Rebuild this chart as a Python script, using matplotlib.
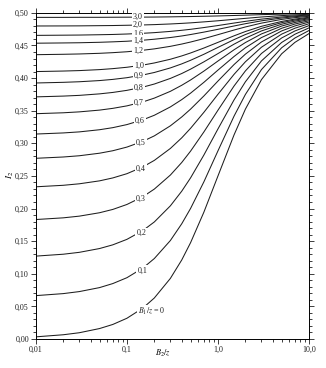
import numpy as np
import matplotlib.pyplot as plt
from matplotlib.ticker import LogLocator, MultipleLocator, NullFormatter

plt.rcParams['font.family'] = ['Liberation Serif', 'DejaVu Serif']
plt.rcParams['mathtext.fontset'] = 'stix'

# B2/z values where the curves were read
b2 = [0.01, 0.02, 0.03, 0.05, 0.07, 0.1, 0.15, 0.2, 0.3, 0.4, 0.5, 0.7, 1.0, 1.5, 2.0, 3.0, 5.0, 7.0, 10.0]

# I2 for each B1/z curve
i2_00 = [0.0032, 0.0064, 0.0095, 0.0159, 0.0222, 0.0317, 0.0474, 0.0628, 0.0928, 0.1211, 0.1476, 0.1944, 0.2500, 0.3128, 0.3524, 0.3976, 0.4372, 0.4548, 0.4683]
i2_01 = [0.0664, 0.0695, 0.0726, 0.0787, 0.0849, 0.0939, 0.1088, 0.1233, 0.1509, 0.1766, 0.2001, 0.2409, 0.2885, 0.3416, 0.3749, 0.4130, 0.4465, 0.4615, 0.4730]
i2_02 = [0.1270, 0.1299, 0.1328, 0.1386, 0.1443, 0.1527, 0.1663, 0.1794, 0.2041, 0.2266, 0.2470, 0.2820, 0.3221, 0.3665, 0.3943, 0.4263, 0.4546, 0.4673, 0.4770]
i2_03 = [0.1831, 0.1857, 0.1883, 0.1935, 0.1986, 0.2062, 0.2182, 0.2298, 0.2513, 0.2706, 0.2880, 0.3174, 0.3508, 0.3878, 0.4110, 0.4377, 0.4615, 0.4723, 0.4805]
i2_04 = [0.2333, 0.2356, 0.2379, 0.2424, 0.2469, 0.2534, 0.2639, 0.2738, 0.2921, 0.3084, 0.3230, 0.3475, 0.3752, 0.4057, 0.4250, 0.4473, 0.4674, 0.4765, 0.4834]
i2_05 = [0.2770, 0.2790, 0.2809, 0.2848, 0.2886, 0.2942, 0.3031, 0.3114, 0.3268, 0.3404, 0.3524, 0.3726, 0.3955, 0.4207, 0.4367, 0.4554, 0.4723, 0.4800, 0.4859]
i2_06 = [0.3142, 0.3159, 0.3175, 0.3208, 0.3240, 0.3287, 0.3361, 0.3430, 0.3558, 0.3670, 0.3769, 0.3935, 0.4123, 0.4331, 0.4465, 0.4621, 0.4764, 0.4829, 0.4879]
i2_07 = [0.3454, 0.3468, 0.3482, 0.3509, 0.3536, 0.3574, 0.3635, 0.3693, 0.3797, 0.3890, 0.3971, 0.4107, 0.4262, 0.4434, 0.4545, 0.4677, 0.4798, 0.4853, 0.4897]
i2_08 = [0.3712, 0.3724, 0.3735, 0.3758, 0.3780, 0.3812, 0.3862, 0.3909, 0.3995, 0.4070, 0.4137, 0.4249, 0.4376, 0.4520, 0.4612, 0.4723, 0.4826, 0.4874, 0.4911]
i2_09 = [0.3925, 0.3935, 0.3944, 0.3962, 0.3980, 0.4006, 0.4048, 0.4086, 0.4156, 0.4218, 0.4273, 0.4365, 0.4471, 0.4590, 0.4668, 0.4762, 0.4850, 0.4891, 0.4923]
i2_10 = [0.4100, 0.4108, 0.4115, 0.4130, 0.4145, 0.4166, 0.4200, 0.4232, 0.4289, 0.4340, 0.4385, 0.4461, 0.4548, 0.4648, 0.4714, 0.4794, 0.4869, 0.4905, 0.4933]
i2_12 = [0.4359, 0.4365, 0.4370, 0.4380, 0.4390, 0.4404, 0.4427, 0.4448, 0.4487, 0.4522, 0.4553, 0.4605, 0.4666, 0.4737, 0.4784, 0.4843, 0.4900, 0.4927, 0.4948]
i2_14 = [0.4535, 0.4539, 0.4542, 0.4549, 0.4556, 0.4565, 0.4581, 0.4596, 0.4622, 0.4646, 0.4668, 0.4705, 0.4748, 0.4799, 0.4834, 0.4878, 0.4921, 0.4942, 0.4959]
i2_16 = [0.4655, 0.4658, 0.4660, 0.4665, 0.4669, 0.4676, 0.4687, 0.4697, 0.4716, 0.4733, 0.4748, 0.4775, 0.4806, 0.4844, 0.4870, 0.4904, 0.4937, 0.4954, 0.4967]
i2_20 = [0.4799, 0.4800, 0.4801, 0.4804, 0.4806, 0.4810, 0.4815, 0.4820, 0.4830, 0.4839, 0.4847, 0.4862, 0.4879, 0.4901, 0.4916, 0.4937, 0.4958, 0.4969, 0.4978]
i2_30 = [0.4931, 0.4931, 0.4932, 0.4932, 0.4933, 0.4934, 0.4935, 0.4936, 0.4939, 0.4942, 0.4944, 0.4948, 0.4953, 0.4960, 0.4965, 0.4973, 0.4981, 0.4986, 0.4990]

curves = [i2_30, i2_20, i2_16, i2_14, i2_12, i2_10, i2_09, i2_08, i2_07,
          i2_06, i2_05, i2_04, i2_03, i2_02, i2_01, i2_00]

# curve labels and where they sit (in the gap of each curve)
labels = ['3,0', '2,0', '1,6', '1,4', '1,2', '1,0', '0,9', '0,8', '0,7',
          '0,6', '0,5', '0,4', '0,3', '0,2', '0,1', '$B_1/z$ = 0']
label_x = [0.132, 0.132, 0.132, 0.132, 0.132, 0.135, 0.135, 0.135, 0.135,
           0.138, 0.142, 0.142, 0.142, 0.145, 0.148, 0.19]
label_y = [0.4935, 0.4813, 0.4684, 0.4577, 0.4421, 0.4191, 0.4036, 0.3849, 0.3619,
           0.3341, 0.3007, 0.2611, 0.2151, 0.1628, 0.1050, 0.0420]

yticks = [0.0, 0.05, 0.10, 0.15, 0.20, 0.25, 0.30, 0.35, 0.40, 0.45, 0.50]
ytick_labels = ['0,00', '0,05', '0,10', '0,15', '0,20', '0,25', '0,30', '0,35', '0,40', '0,45', '0,50']
xticks = [0.01, 0.1, 1.0, 10.0]
xtick_labels = ['0,01', '0,1', '1,0', '10,0']

fig = plt.figure(figsize=(3.26, 3.68), dpi=100)
ax = fig.add_axes([0.110, 0.079, 0.838, 0.886])

for vals in curves:
    ax.plot(b2, vals, color='#1e1e1e', lw=0.75)

for txt, lx, ly in zip(labels, label_x, label_y):
    ax.text(lx, ly, txt, fontsize=5.8, ha='center', va='center', color='#1e1e1e',
            bbox=dict(boxstyle='square,pad=0.15', fc='white', ec='none'))

ax.set_xscale('log')
ax.set_xlim(0.01, 10)
ax.set_ylim(0, 0.5)
ax.set_xticks(xticks)
ax.set_xticklabels(xtick_labels)
ax.xaxis.set_minor_locator(LogLocator(base=10, subs=range(2, 10)))
ax.xaxis.set_minor_formatter(NullFormatter())
ax.set_yticks(yticks)
ax.set_yticklabels(ytick_labels)
ax.yaxis.set_minor_locator(MultipleLocator(0.01))

ax.tick_params(which='both', direction='out', top=True, right=True,
               labelsize=5.8, width=0.6, pad=1.5, colors='#1e1e1e')
ax.tick_params(which='major', length=3.5)
ax.tick_params(which='minor', length=2)
for sp in ax.spines.values():
    sp.set_linewidth(0.7)

fig.text(10 / 326, 1 - 175 / 368, '$I_2$', fontsize=6.5, rotation=90, ha='center', va='center')
fig.text(163 / 326, 1 - 353 / 368, '$B_2/z$', fontsize=6, ha='center', va='center')

fig.savefig('out.png', dpi=100)
